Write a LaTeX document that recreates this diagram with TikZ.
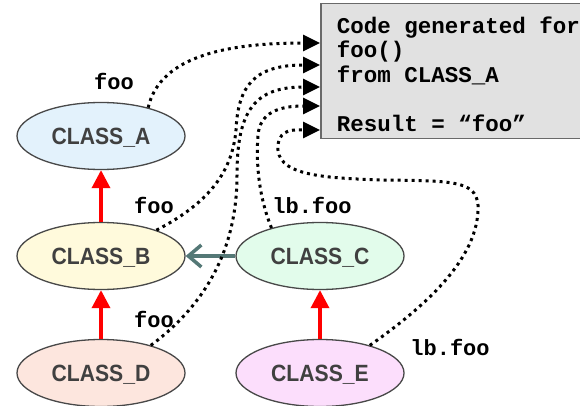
\documentclass[tikz,border=0pt]{standalone}
\usepackage{fontspec}
\setmonofont{Liberation Mono}
\newfontfamily\clsfont[FakeStretch=0.9]{Liberation Sans}
\newcommand\codefont{\ttfamily\bfseries\fontsize{22.5}{24.5}\selectfont}
\newcommand\msp{\hspace{0.6em}}
\usetikzlibrary{shapes.geometric,arrows.meta}
\definecolor{clsAfill}{RGB}{227,242,252}
\definecolor{clsBfill}{RGB}{255,250,220}
\definecolor{clsCfill}{RGB}{226,252,235}
\definecolor{clsDfill}{RGB}{253,230,222}
\definecolor{clsEfill}{RGB}{252,222,252}
\definecolor{edgegray}{RGB}{72,72,72}
\definecolor{clsgray}{RGB}{64,64,64}
\definecolor{boxfill}{RGB}{225,225,225}
\definecolor{boxedge}{RGB}{105,105,105}
\definecolor{slateteal}{RGB}{84,120,118}

\begin{document}
\begin{tikzpicture}[x=1pt,y=-1pt,>=latex]
\useasboundingbox (0,0) rectangle (580,406);
\tikzstyle{cls}=[ellipse,draw=edgegray,line width=1.3pt,minimum width=168pt,
  minimum height=67pt,inner sep=0pt,text=clsgray,text height=16.8pt,text depth=0pt,
  font=\clsfont\bfseries\fontsize{23.5}{26}\selectfont]
\tikzstyle{lbl}=[anchor=base,inner sep=0pt,font=\ttfamily\bfseries\fontsize{22}{24.5}\selectfont]
\tikzstyle{isa}=[-{Triangle[length=18pt,width=18pt]},red,line width=3.5pt]
\tikzstyle{uses}=[-{Straight Barb[length=13pt,width=22pt]},slateteal,line width=3.5pt]
\tikzstyle{gen}=[-{Triangle[length=17pt,width=16pt]},black,line width=3pt,
  dash pattern=on 3pt off 4pt]

\draw (320,3) node[anchor=north west,draw=boxedge,fill=boxfill,line width=1.5pt,
  minimum height=135pt,text width=264pt,inner xsep=16pt,align=left,font=\codefont] (box)
  {\rule{0pt}{22.5pt}Code\msp generated\msp for\\foo()\\from\msp CLASS\_A\\[24.5pt]Result\msp=\msp“foo”};

\draw (101,136) node[cls,fill=clsAfill] (clsA) {CLASS\_A};
\draw (101,256) node[cls,fill=clsBfill] (clsB) {CLASS\_B};
\draw (320,256) node[cls,fill=clsCfill] (clsC) {CLASS\_C};
\draw (101,373) node[cls,fill=clsDfill] (clsD) {CLASS\_D};
\draw (320,373) node[cls,fill=clsEfill] (clsE) {CLASS\_E};

\draw (114,90) node[lbl] (lblA) {foo};
\draw (154,213) node[lbl] (lblB) {foo};
\draw (312,213) node[lbl] (lblC) {lb.foo};
\draw (154,327) node[lbl] (lblD) {foo};
\draw (450,355) node[lbl] (lblE) {lb.foo};

\coordinate (in1) at ([yshift=-40pt]box.north west);
\coordinate (in2) at ([yshift=-62pt]box.north west);
\coordinate (in3) at ([yshift=-84pt]box.north west);
\coordinate (in4) at ([yshift=-103pt]box.north west);
\coordinate (in5) at ([yshift=-127pt]box.north west);

\draw[isa] (clsB) -- (clsA);
\draw[isa] (clsD) -- (clsB);
\draw[isa] (clsE) -- (clsC);
\draw[uses] (clsC) -- (clsB);

\draw[gen] (clsA.31) .. controls (160,55) and (230,43) .. (in1);
\draw[gen] (clsB.25) .. controls (205,205) and (232,175) .. (236,130)
  .. controls (238,85) and (255,65) .. (in2);
\draw[gen] (clsD.29) .. controls (205,305) and (237,250) .. (237,175)
  .. controls (237,110) and (255,87) .. (in3);
\draw[gen] (clsC.150) .. controls (258,195) and (256,160) .. (258,135)
  .. controls (260,112) and (280,106) .. (in4);
\draw[gen] (clsE.29) .. controls (420,310) and (480,260) .. (478,205)
  .. controls (476,180) and (450,181) .. (383,180)
  .. controls (320,178) and (275,175) .. (278,145)
  .. controls (280,128) and (295,130) .. (in5);

\end{tikzpicture}
\end{document}
